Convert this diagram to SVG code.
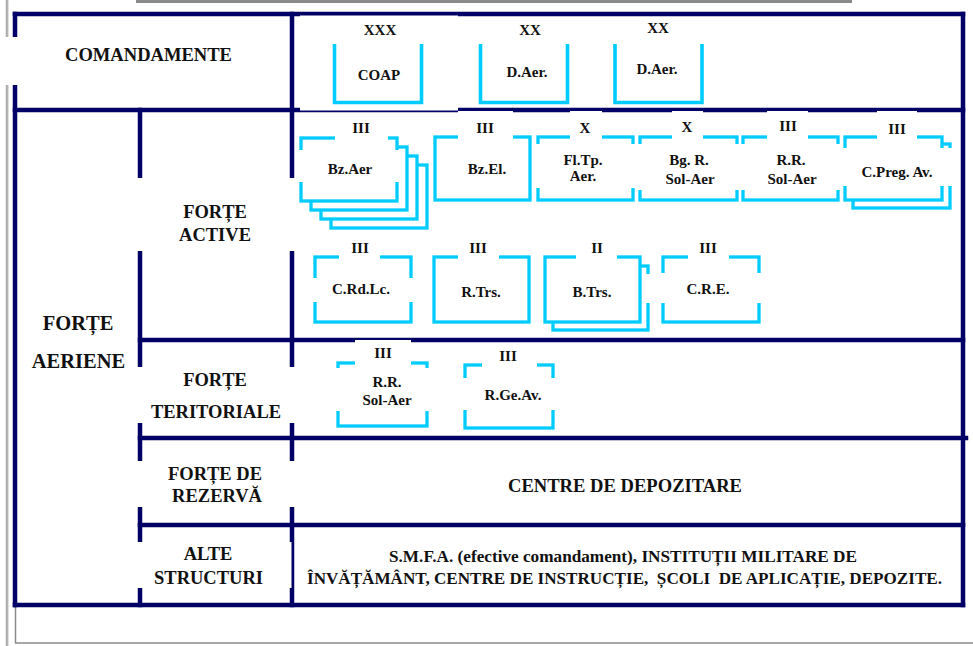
<svg xmlns="http://www.w3.org/2000/svg" width="973" height="646" viewBox="0 0 973 646">
<style>
.nv{stroke:#000066;stroke-width:4.5;fill:none;stroke-linecap:square}
.gr{stroke:#8a8a8a;fill:none}
.cy{stroke:#00ccff;stroke-width:3.3;fill:#fff}
.cu{stroke:#00ccff;stroke-width:3.6;fill:none}
.w{fill:#fff}
text{font-family:"Liberation Serif","Times New Roman",serif;font-weight:bold;fill:#111;text-anchor:middle}
.h{font-size:18.5px}
.b{font-size:15px}
.t{font-size:17px}
</style>
<rect width="973" height="646" fill="#fff"/>
<g id="frame">
<line class="gr" x1="136" y1="1.5" x2="852" y2="1.5" stroke-width="3"/>
<line class="gr" x1="6.3" y1="0" x2="6.3" y2="646" stroke-width="0.9"/>
<line class="gr" x1="7.8" y1="0" x2="7.8" y2="646" stroke-width="0.9"/>
<line class="gr" x1="15.5" y1="606" x2="15.5" y2="643" stroke-width="1.5"/>
<line class="gr" x1="15" y1="643" x2="973" y2="643" stroke-width="1.5"/>
</g>
<g id="grid">
<line class="nv" x1="15" y1="14" x2="15" y2="605"/>
<line class="nv" x1="15" y1="14" x2="963" y2="14"/>
<line class="nv" x1="963" y1="14" x2="963" y2="605"/>
<line class="nv" x1="15" y1="110" x2="963" y2="110"/>
<line class="nv" x1="292" y1="14" x2="292" y2="605"/>
<line class="nv" x1="140" y1="110" x2="140" y2="605"/>
<line class="nv" x1="140" y1="340" x2="963" y2="340"/>
<line class="nv" x1="140" y1="438" x2="966" y2="438"/>
<line class="nv" x1="140" y1="525" x2="963" y2="525"/>
<line class="nv" x1="15" y1="605" x2="963" y2="605"/>
</g>
<g id="comandamente">
<rect class="w" x="0" y="37" width="200" height="48"/>
<text class="h" x="148.5" y="61" textLength="167" lengthAdjust="spacingAndGlyphs">COMANDAMENTE</text>
</g>
<g id="forte-aeriene">
<text x="78" y="330" font-size="20.5">FORȚE</text>
<text x="78.5" y="368" font-size="20.5">AERIENE</text>
</g>
<g id="forte-active">
<rect class="w" x="136" y="178" width="160" height="73"/>
<text class="h" x="215" y="218">FORȚE</text>
<text class="h" x="215" y="241">ACTIVE</text>
</g>
<g id="forte-teritoriale">
<rect class="w" x="136" y="367" width="160" height="56"/>
<text class="h" x="215" y="386">FORȚE</text>
<text class="h" x="216" y="418">TERITORIALE</text>
</g>
<g id="forte-rezerva">
<rect class="w" x="136" y="461" width="160" height="46"/>
<text class="h" x="215" y="480">FORȚE DE</text>
<text class="h" x="217" y="502">REZERVĂ</text>
</g>
<g id="alte-structuri">
<rect class="w" x="136" y="542" width="155.5" height="46"/>
<text class="h" x="208" y="560">ALTE</text>
<text class="h" x="208.5" y="584">STRUCTURI</text>
</g>
<g id="centre-depozitare">
<text class="h" x="625" y="492" textLength="234" lengthAdjust="spacingAndGlyphs">CENTRE DE DEPOZITARE</text>
</g>
<g id="alte-text">
<text class="t" x="623" y="562" textLength="468" lengthAdjust="spacingAndGlyphs">S.M.F.A. (efective comandament), INSTITUȚII MILITARE DE</text>
<text class="t" x="624.5" y="584" textLength="635" lengthAdjust="spacingAndGlyphs" style="white-space:pre">ÎNVĂȚĂMÂNT, CENTRE DE INSTRUCȚIE,  ȘCOLI  DE APLICAȚIE, DEPOZITE.</text>
</g>
<g id="coap">
<rect class="w" x="300" y="15.5" width="158" height="95"/>
<path class="cu" d="M334.5,44 V102.5 H421.5 V44"/>
<text class="b" x="380" y="35">XXX</text>
<text class="b" x="379" y="80">COAP</text>
</g>
<g id="daer1">
<path class="cu" d="M480.5,44 V102.5 H567.5 V44"/>
<text class="b" x="530" y="35">XX</text>
<text class="b" x="527" y="77">D.Aer.</text>
</g>
<g id="daer2">
<path class="cu" d="M615,44 V102.5 H702 V44"/>
<text class="b" x="658" y="33">XX</text>
<text class="b" x="657" y="74">D.Aer.</text>
</g>
<g id="bzaer">
<rect class="cy" x="331" y="165" width="96" height="63"/>
<rect class="cy" x="321" y="156" width="96" height="63"/>
<rect class="cy" x="311" y="147" width="96" height="63"/>
<rect class="cy" x="301" y="138" width="96" height="63"/>
<rect class="w" x="335" y="120" width="53" height="22"/>
<rect class="w" x="298" y="150" width="102" height="32"/>
<text class="b" x="361" y="133">III</text>
<text class="b" x="350" y="174">Bz.Aer</text>
</g>
<g id="bzel">
<rect class="cy" x="435" y="137" width="95" height="63"/>
<rect class="w" x="458" y="111" width="55" height="30"/>
<text class="b" x="485" y="133">III</text>
<text class="b" x="487" y="174">Bz.El.</text>
</g>
<g id="fltp">
<rect class="cy" x="538" y="137" width="95" height="63"/>
<rect class="w" x="570" y="111" width="32" height="30"/>
<rect class="w" x="535" y="144" width="101" height="44"/>
<text class="b" x="585" y="133">X</text>
<text class="b" x="583" y="165">Fl.Tp.</text>
<text class="b" x="583" y="181">Aer.</text>
</g>
<g id="bgr">
<rect class="cy" x="640" y="137" width="97" height="63"/>
<rect class="w" x="672" y="111" width="31" height="30"/>
<rect class="w" x="637" y="144" width="103" height="46"/>
<text class="b" x="687" y="132">X</text>
<text class="b" x="689" y="165">Bg. R.</text>
<text class="b" x="690" y="184">Sol-Aer</text>
</g>
<g id="rr1">
<rect class="cy" x="743" y="137" width="95" height="63"/>
<rect class="w" x="767" y="111" width="41" height="30"/>
<rect class="w" x="740.5" y="144" width="100.5" height="46"/>
<text class="b" x="788" y="131">III</text>
<text class="b" x="791" y="165">R.R.</text>
<text class="b" x="792" y="184">Sol-Aer</text>
</g>
<g id="cpreg">
<rect class="cy" x="853" y="144" width="97" height="64"/>
<rect class="cy" x="845" y="137" width="97" height="63"/>
<rect class="w" x="877" y="111" width="40" height="30"/>
<rect class="w" x="842" y="148" width="111" height="38"/>
<text class="b" x="897" y="134">III</text>
<text class="b" x="897" y="177">C.Preg. Av.</text>
</g>
<g id="crdlc">
<rect class="cy" x="315" y="257" width="96" height="65"/>
<rect class="w" x="339" y="240" width="41" height="20"/>
<rect class="w" x="312" y="278" width="102" height="24"/>
<text class="b" x="360" y="253">III</text>
<text class="b" x="361" y="294">C.Rd.Lc.</text>
</g>
<g id="rtrs">
<rect class="cy" x="434" y="257" width="95" height="65"/>
<rect class="w" x="458" y="240" width="41" height="20"/>
<text class="b" x="478" y="253">III</text>
<text class="b" x="481" y="297">R.Trs.</text>
</g>
<g id="btrs">
<rect class="cy" x="553" y="266" width="95" height="64"/>
<rect class="cy" x="545" y="257" width="95" height="65"/>
<rect class="w" x="576" y="240" width="41" height="20"/>
<rect class="w" x="645" y="274" width="6" height="29"/>
<text class="b" x="597" y="253">II</text>
<text class="b" x="592" y="297">B.Trs.</text>
</g>
<g id="cre">
<rect class="cy" x="663" y="257" width="96" height="65"/>
<rect class="w" x="688" y="240" width="41" height="20"/>
<rect class="w" x="660" y="273" width="102" height="30"/>
<text class="b" x="708" y="253">III</text>
<text class="b" x="708" y="294">C.R.E.</text>
</g>
<g id="rr2">
<rect class="cy" x="338" y="363" width="89" height="63"/>
<rect class="w" x="355" y="340" width="56" height="26"/>
<rect class="w" x="335" y="368" width="95" height="43"/>
<text class="b" x="383" y="358">III</text>
<text class="b" x="387" y="387">R.R.</text>
<text class="b" x="387" y="405">Sol-Aer</text>
</g>
<g id="rgeav">
<rect class="cy" x="465" y="365" width="88" height="63"/>
<rect class="w" x="482" y="345" width="55" height="23"/>
<rect class="w" x="462" y="378" width="94" height="32"/>
<text class="b" x="508" y="361">III</text>
<text class="b" x="513" y="400">R.Ge.Av.</text>
</g>
</svg>
